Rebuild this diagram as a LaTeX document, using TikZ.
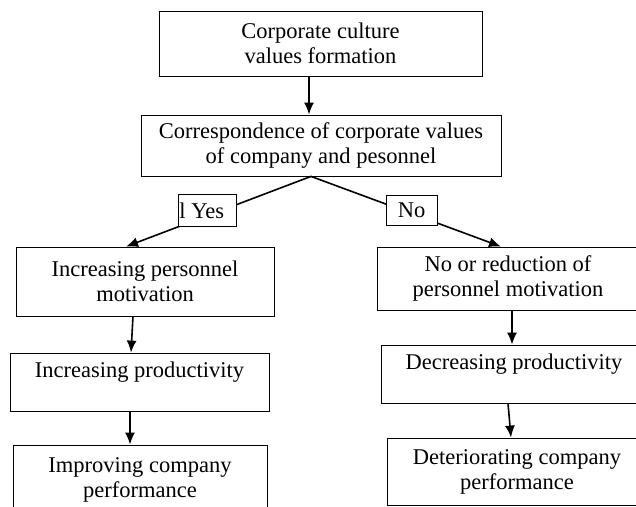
\documentclass[tikz,border=0pt]{standalone}
\usepackage{fontspec}
\setmainfont{Liberation Serif}
\usetikzlibrary{arrows.meta}

\begin{document}
\begin{tikzpicture}[x=1pt,y=-1pt,
       Box/.style={draw,line width=0.8pt,rectangle,inner sep=0pt,align=center,font=\fontsize{22.5}{25}\selectfont},
       Answer/.style={draw,fill=white,line width=0.8pt,inner sep=0pt,font=\fontsize{22.5}{25}\selectfont},
       Arrow/.style={line width=1.6pt,-{Latex[length=12pt,width=10pt]}}]
       \clip(0,0)rectangle(636,506);
       \node[Box,minimum width=323pt,minimum height=65pt](Formation)at(320.5,43.5){Corporate culture\\values formation};
       \node[Box,minimum width=360pt,minimum height=61pt](Correspondence)at(321,145.5){Correspondence of corporate values\\of company and pesonnel};
       \node[Box,minimum width=258pt,minimum height=69pt](MotivationUp)at(145,281.5){Increasing personnel\\motivation};
       \node[Box,minimum width=259pt,minimum height=58pt](ProductivityUp)at(139.5,382){Increasing productivity\\~};
       \node[Box,minimum width=254pt,minimum height=70pt](PerformanceUp)at(140,480){Improving company\\performance};
       \node[Box,minimum width=262pt,minimum height=63pt](MotivationDown)at(508,278.5){No or reduction of\\personnel motivation};
       \node[Box,minimum width=266pt,minimum height=58pt](ProductivityDown)at(514,374){Decreasing productivity\\~};
       \node[Box,minimum width=260pt,minimum height=67pt](PerformanceDown)at(517,471.5){Deteriorating company\\performance};
       \draw[Arrow]([xshift=-11.5pt]Formation.south)--([xshift=-12pt]Correspondence.north);
       \draw[Arrow]([xshift=-10pt]Correspondence.south)--([xshift=-19pt]MotivationUp.north)
              node[Answer,pos=0.56,yshift=5pt,minimum width=58pt,minimum height=32pt](Yes){\makebox[56pt][l]{l Yes}};
       \draw[Arrow]([xshift=-10pt]Correspondence.south)--([xshift=-7pt]MotivationDown.north)
              node[Answer,pos=0.53,yshift=3pt,minimum width=51pt,minimum height=30pt](No){No};
       \draw[Arrow]([xshift=-12pt]MotivationUp.south)--([xshift=-8.5pt]ProductivityUp.north);
       \draw[Arrow]([xshift=-9.5pt]ProductivityUp.south)--([xshift=-10pt]PerformanceUp.north);
       \draw[Arrow]([xshift=4pt]MotivationDown.south)--([xshift=-2pt]ProductivityDown.north);
       \draw[Arrow]([xshift=-6pt]ProductivityDown.south)--([xshift=-6pt]PerformanceDown.north);
      \end{tikzpicture}
\end{document}
